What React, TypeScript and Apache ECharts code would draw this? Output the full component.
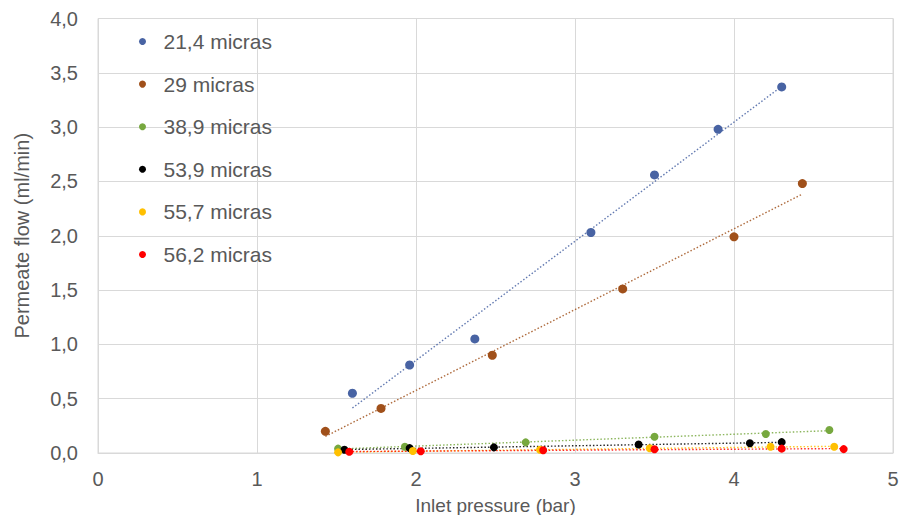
import React, { useEffect, useRef } from "react";
import * as echarts from "echarts";

const seriesNames = ["21,4 micras", "29 micras", "38,9 micras", "53,9 micras", "55,7 micras", "56,2 micras"];
const seriesColors = ["#4863a3", "#a0501a", "#77a83f", "#000000", "#ffc000", "#ff0000"];

const s214: number[][] = [[1.6, 0.55], [1.96, 0.81], [2.37, 1.05], [3.1, 2.03], [3.5, 2.56], [3.9, 2.98], [4.3, 3.37]];
const s29: number[][] = [[1.43, 0.2], [1.78, 0.41], [2.48, 0.9], [3.3, 1.51], [4.0, 1.99], [4.43, 2.48]];
const s389: number[][] = [[1.51, 0.04], [1.93, 0.058], [2.69, 0.098], [3.5, 0.15], [4.2, 0.175], [4.6, 0.212]];
const s539: number[][] = [[1.55, 0.03], [1.96, 0.045], [2.49, 0.052], [3.4, 0.078], [4.1, 0.09], [4.3, 0.1]];
const s557: number[][] = [[1.51, 0.006], [1.98, 0.018], [2.78, 0.03], [3.47, 0.043], [4.23, 0.058], [4.63, 0.058]];
const s562: number[][] = [[1.58, 0.012], [2.03, 0.016], [2.8, 0.026], [3.5, 0.034], [4.3, 0.04], [4.69, 0.036]];

const allData = [s214, s29, s389, s539, s557, s562];
const markerSizes = [9, 9, 8, 8, 8, 8];

const xTicks = { min: 0, max: 5, interval: 1 };
const yTicks = { min: 0, max: 4, interval: 0.5 };

function trend(points: number[][]): number[][] {
  const n = points.length;
  let sx = 0, sy = 0, sxx = 0, sxy = 0;
  points.forEach(([x, y]) => { sx += x; sy += y; sxx += x * x; sxy += x * y; });
  const b = (n * sxy - sx * sy) / (n * sxx - sx * sx);
  const a = (sy - b * sx) / n;
  const xs = points.map((p) => p[0]);
  const x0 = Math.min(...xs);
  const x1 = Math.max(...xs);
  return [[x0, a + b * x0], [x1, a + b * x1]];
}

const FONT = "'Liberation Sans', Arial, sans-serif";
const TXT = "#595959";

export default function App() {
  const ref = useRef<HTMLDivElement>(null);
  useEffect(() => {
    if (!ref.current) return;
    const chart = echarts.init(ref.current, undefined, { renderer: "svg" });
    const lines = allData.map((d, i) => ({
      type: "line",
      name: seriesNames[i] + " trend",
      data: trend(d),
      symbol: "none",
      silent: true,
      z: 1,
      lineStyle: { color: seriesColors[i], width: 1.4, type: [1.5, 2], opacity: 0.85 },
    }));
    const scatters = allData.map((d, i) => ({
      type: "scatter",
      name: seriesNames[i],
      data: d,
      symbol: "circle",
      symbolSize: markerSizes[i],
      z: 3,
      itemStyle: { color: seriesColors[i], opacity: 1 },
    }));
    chart.setOption({
      animation: false,
      backgroundColor: "#ffffff",
      textStyle: { fontFamily: FONT },
      grid: {
        left: 98,
        right: 7,
        top: 18.5,
        bottom: 62,
        containLabel: false,
        outerBoundsMode: "none",
        show: true,
        borderColor: "#d9d9d9",
        borderWidth: 1,
      },
      legend: {
        data: seriesNames,
        orient: "vertical",
        left: 134,
        top: 25.5,
        icon: "circle",
        itemWidth: 32,
        itemHeight: 7,
        itemGap: 20.6,
        textStyle: { fontSize: 21, color: TXT, fontFamily: FONT, lineHeight: 22 },
      },
      xAxis: {
        type: "value",
        min: xTicks.min,
        max: xTicks.max,
        interval: xTicks.interval,
        name: "Inlet pressure (bar)",
        nameLocation: "middle",
        nameGap: 43,
        nameTextStyle: { fontSize: 19, color: TXT, fontFamily: FONT },
        axisLine: { show: true, lineStyle: { color: "#d9d9d9" } },
        axisTick: { show: false },
        axisLabel: { fontSize: 20, color: TXT, margin: 16, fontFamily: FONT },
        splitLine: { show: true, lineStyle: { color: "#d9d9d9", width: 1 } },
      },
      yAxis: {
        type: "value",
        min: yTicks.min,
        max: yTicks.max,
        interval: yTicks.interval,
        name: "Permeate flow (ml/min)",
        nameLocation: "middle",
        nameRotate: 90,
        nameGap: 66,
        nameTextStyle: { fontSize: 20, color: TXT, fontFamily: FONT },
        axisLine: { show: true, lineStyle: { color: "#d9d9d9" } },
        axisTick: { show: false },
        axisLabel: {
          fontSize: 20,
          color: TXT,
          margin: 20,
          fontFamily: FONT,
          formatter: (v: number) => v.toFixed(1).replace(".", ","),
        },
        splitLine: { show: true, lineStyle: { color: "#d9d9d9", width: 1 } },
      },
      series: [...lines, ...scatters],
    });
    return () => chart.dispose();
  }, []);
  return (
    <div
      ref={ref}
      style={{ position: "fixed", left: 0, top: 0, width: 900, height: 515, background: "#fff" }}
    />
  );
}
